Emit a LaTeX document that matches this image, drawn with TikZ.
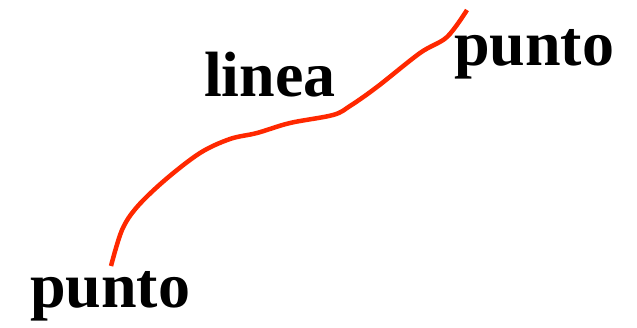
\documentclass[tikz,border=0pt]{standalone}
\usepackage{fontspec}
\setmainfont{Liberation Serif}
\usepackage{tikz}
\usetikzlibrary{positioning}

\begin{document}
\begin{tikzpicture}[
    x=1pt, y=-1pt,
    every node/.style={
        font=\fontsize{64}{64}\bfseries\selectfont
    },
    label/.style={
        inner sep=0pt,
        anchor=base west
    },
    curva/.style={
        line width=4.5pt,
        draw=linecolor,
        line cap=butt
    }
]

%--- Color Definitions ---%
\definecolor{linecolor}{RGB}{255,40,0}

\useasboundingbox (0,0) rectangle (637,328);

%-----------------------------------------------
% LABELS
%-----------------------------------------------
\node[label] (puntoA) at (30,308) {punto};
\node[label] (linea)  at (204,97) {linea};
\node[label] (puntoB) at (454,66) {punto};

%-----------------------------------------------
% LINE
%-----------------------------------------------
\coordinate (inicio) at (111,266);
\coordinate (fin)    at (467,10);

\draw[curva] plot[smooth, tension=0.55] coordinates {
    (inicio) (122,230) (137,207) (165,180) (200,153) (230,139) (257,133)
    (290,123) (333,115) (350,106) (377,87) (420,53) (447,37) (fin)};

\end{tikzpicture}
\end{document}
